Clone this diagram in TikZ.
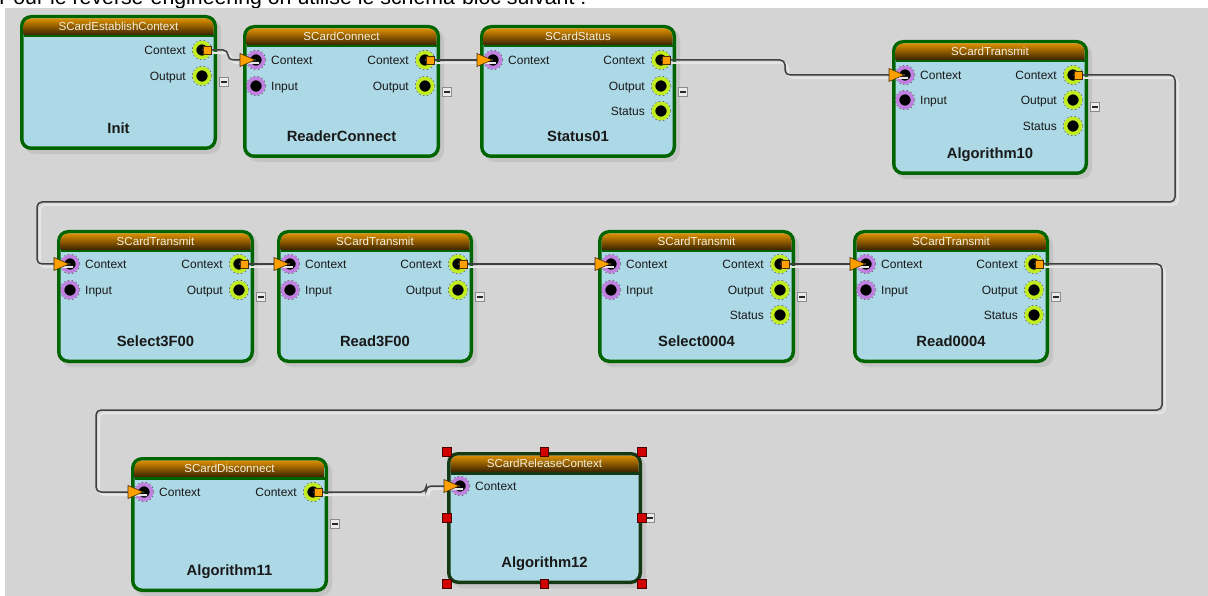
\documentclass[tikz,border=0pt]{standalone}
\usepackage{fontspec}
\setmainfont{Liberation Sans}
\definecolor{bgc}{HTML}{D4D4D4}
\definecolor{blockgreen}{HTML}{006400}
\definecolor{selgreen}{HTML}{143A14}
\definecolor{bodyblue}{HTML}{ADD8E6}
\definecolor{hdtop}{HTML}{E09200}
\definecolor{hdbot}{HTML}{3A2200}
\definecolor{hdtxt}{HTML}{F4F0DC}
\definecolor{inring}{HTML}{C080E0}
\definecolor{outring}{HTML}{C0EC20}
\definecolor{orangemk}{HTML}{FFA000}
\definecolor{mkedge}{HTML}{4A3000}
\definecolor{wirec}{HTML}{404040}
\definecolor{wiresh}{HTML}{E6E6E6}
\definecolor{bsh}{HTML}{C4C4C4}
\definecolor{handlec}{HTML}{D00000}
\tikzset{
  hdtext/.style={font=\fontsize{11.6}{13}\selectfont, text=hdtxt, inner sep=0, text height=8.3, text depth=0},
  nametext/.style={font=\bfseries\fontsize{14.8}{17}\selectfont, text=black!90, inner sep=0, text height=10.6, text depth=0},
  plabel/.style={font=\fontsize{12}{14}\selectfont, text=black!90, inner sep=0, text height=8.6, text depth=0},
  inport/.style={circle, minimum size=15pt, inner sep=0, fill=black, draw=inring, line width=3.6pt},
  outport/.style={circle, minimum size=15pt, inner sep=0, fill=black, draw=outring, line width=3.6pt},
  pdash/.style={draw=black!65, line width=0.6pt, dash pattern=on 1.5pt off 2.5pt},
  osq/.style={rectangle, minimum size=8pt, inner sep=0, fill=orangemk, draw=mkedge, line width=0.6pt},
  itri/.style={fill=orangemk, draw=mkedge, line width=0.6pt, line join=round},
  minusbox/.style={rectangle, minimum size=9pt, inner sep=0, fill=black!8, draw=black!45, line width=0.7pt,
    path picture={\draw[black!85, line width=1.4pt] ([xshift=-2.6pt]path picture bounding box.center) -- ([xshift=2.6pt]path picture bounding box.center);}},
  conn/.style={draw=wirec, line width=1.5pt, rounded corners=5pt},
  connsh/.style={draw=wiresh, line width=2pt, rounded corners=5pt, transform canvas={shift={(3pt,-3pt)}}},
  handle/.style={rectangle, minimum size=8.5pt, inner sep=0, fill=handlec, draw=black!70!red, line width=0.6pt}
}
\newcommand\blk[8]{%
  \fill[bsh, rounded corners=11pt] (#2+4,#3+4) rectangle (#4+4,#5+4);
  \fill[#8, rounded corners=11pt] (#2,#3) rectangle (#4,#5);
  \fill[bodyblue, rounded corners=8pt] (#2+3.5,#3+3.5) rectangle (#4-3.5,#5-3.5);
  \begin{scope}
    \clip[rounded corners=8pt] (#2+3.5,#3+3.5) rectangle (#4-3.5,#5-3.5);
    \shade[top color=hdtop, bottom color=hdbot] (#2,#3+3) rectangle (#4,#3+20);
  \end{scope}
  \fill[#8] (#2+3.5,#3+20) rectangle (#4-3.5,#3+22.5);
  \node[hdtext] (#1-h) at ({(#2+#4)/2},#3+11.5) {#6};
  \node[nametext] (#1-n) at ({(#2+#4)/2},#5-22) {#7};
}
\newcommand\inp[4]{%
  \draw[pdash] (#2,#3) circle[radius=9.9];
  \node[inport] (#1) at (#2,#3) {};
  \node[plabel, anchor=west] (#1-l) at (#2+15,#3) {#4};
}
\newcommand\outp[4]{%
  \draw[pdash] (#2,#3) circle[radius=9.9];
  \node[outport] (#1) at (#2,#3) {};
  \node[plabel, anchor=east] (#1-l) at (#2-16,#3) {#4};
}
\newcommand\omark[1]{\node[osq, anchor=west] (#1-m) at ([xshift=0.5pt]#1.center) {};}
\newcommand\imark[1]{\filldraw[itri] ([xshift=-16pt,yshift=6.5pt]#1.center) -- ([xshift=-1pt]#1.center) -- ([xshift=-16pt,yshift=-6.5pt]#1.center) -- cycle;}
\newcommand\wire[1]{\draw[connsh] #1; \draw[conn] #1;}
\begin{document}
\begin{tikzpicture}[x=1pt,y=-1pt]
\useasboundingbox (0,0) rectangle (1208,596);
\clip (0,0) rectangle (1208,596);
\node[anchor=base west, inner sep=0, font=\fontsize{21.3}{24}\selectfont] (intro) at (-1,5) {Pour le reverse-engineering on utilise le schéma-bloc suivant :};
\fill[bgc] (5,8) rectangle (1208,596);

\coordinate (r1) at (1175,202);
\coordinate (l1) at (37,202);
\coordinate (r2) at (1162,410);
\coordinate (l2) at (96,410);

% blocks
\blk{b1}{20}{15}{217}{150}{SCardEstablishContext}{Init}{blockgreen}
\blk{b2}{243}{25}{440}{158}{SCardConnect}{ReaderConnect}{blockgreen}
\blk{b3}{480}{25}{676}{158}{SCardStatus}{Status01}{blockgreen}
\blk{b4}{892}{40}{1088}{175}{SCardTransmit}{Algorithm10}{blockgreen}
\blk{b5}{57}{230}{254}{363}{SCardTransmit}{Select3F00}{blockgreen}
\blk{b6}{277}{230}{473}{363}{SCardTransmit}{Read3F00}{blockgreen}
\blk{b7}{598}{230}{795}{363}{SCardTransmit}{Select0004}{blockgreen}
\blk{b8}{853}{230}{1049}{363}{SCardTransmit}{Read0004}{blockgreen}
\blk{b9}{131}{457}{328}{592}{SCardDisconnect}{Algorithm11}{blockgreen}
\blk{b10}{447}{452}{642}{584}{SCardReleaseContext}{Algorithm12}{selgreen}

% ports
\outp{b1o1}{202}{50}{Context}
\outp{b1o2}{202}{76}{Output}
\inp{b2i1}{256}{60}{Context}
\inp{b2i2}{256}{86}{Input}
\outp{b2o1}{425}{60}{Context}
\outp{b2o2}{425}{86}{Output}
\inp{b3i1}{493}{60}{Context}
\outp{b3o1}{661}{60}{Context}
\outp{b3o2}{661}{86}{Output}
\outp{b3o3}{661}{111}{Status}
\inp{b4i1}{905}{75}{Context}
\inp{b4i2}{905}{100}{Input}
\outp{b4o1}{1073}{75}{Context}
\outp{b4o2}{1073}{100}{Output}
\outp{b4o3}{1073}{126}{Status}
\inp{b5i1}{70}{264}{Context}
\inp{b5i2}{70}{290}{Input}
\outp{b5o1}{239}{264}{Context}
\outp{b5o2}{239}{290}{Output}
\inp{b6i1}{290}{264}{Context}
\inp{b6i2}{290}{290}{Input}
\outp{b6o1}{458}{264}{Context}
\outp{b6o2}{458}{290}{Output}
\inp{b7i1}{611}{264}{Context}
\inp{b7i2}{611}{290}{Input}
\outp{b7o1}{780}{264}{Context}
\outp{b7o2}{780}{290}{Output}
\outp{b7o3}{780}{315}{Status}
\inp{b8i1}{866}{264}{Context}
\inp{b8i2}{866}{290}{Input}
\outp{b8o1}{1034}{264}{Context}
\outp{b8o2}{1034}{290}{Output}
\outp{b8o3}{1034}{315}{Status}
\inp{b9i1}{144}{492}{Context}
\outp{b9o1}{313}{492}{Context}
\inp{b10i1}{460}{486}{Context}

% connectors
\wire{(b1o1.center) -- ++(26,0) |- (b2i1.center)}
\wire{(b2o1.center) -- (b3i1.center)}
\wire{(b3o1.center) -- ++(124,0) |- (b4i1.center)}
\wire{(b4o1.center) -| (r1) -- (l1) |- (b5i1.center)}
\wire{(b5o1.center) -- (b6i1.center)}
\wire{(b6o1.center) -- (b7i1.center)}
\wire{(b7o1.center) -- (b8i1.center)}
\wire{(b8o1.center) -| (r2) -- (l2) |- (b9i1.center)}
\wire{(b9o1.center) -- ++(113,0) |- (b10i1.center)}

% markers
\foreach \p in {b1o1,b2o1,b3o1,b4o1,b5o1,b6o1,b7o1,b8o1,b9o1} {\omark{\p}}
\foreach \p in {b2i1,b3i1,b4i1,b5i1,b6i1,b7i1,b8i1,b9i1,b10i1} {\imark{\p}}

% collapse boxes
\node[minusbox] (m1) at (224,82) {};
\node[minusbox] (m2) at (447,92) {};
\node[minusbox] (m3) at (683,92) {};
\node[minusbox] (m4) at (1095,107) {};
\node[minusbox] (m5) at (261,297) {};
\node[minusbox] (m6) at (480,297) {};
\node[minusbox] (m7) at (802,297) {};
\node[minusbox] (m8) at (1056,297) {};
\node[minusbox] (m9) at (335,524) {};
\node[minusbox] (m10) at (650,518) {};

% selection handles
\foreach \hx/\hy [count=\i] in {447/452,544.5/452,642/452,447/518,642/518,447/584,544.5/584,642/584}
  \node[handle] (hd\i) at (\hx,\hy) {};
\end{tikzpicture}
\end{document}
